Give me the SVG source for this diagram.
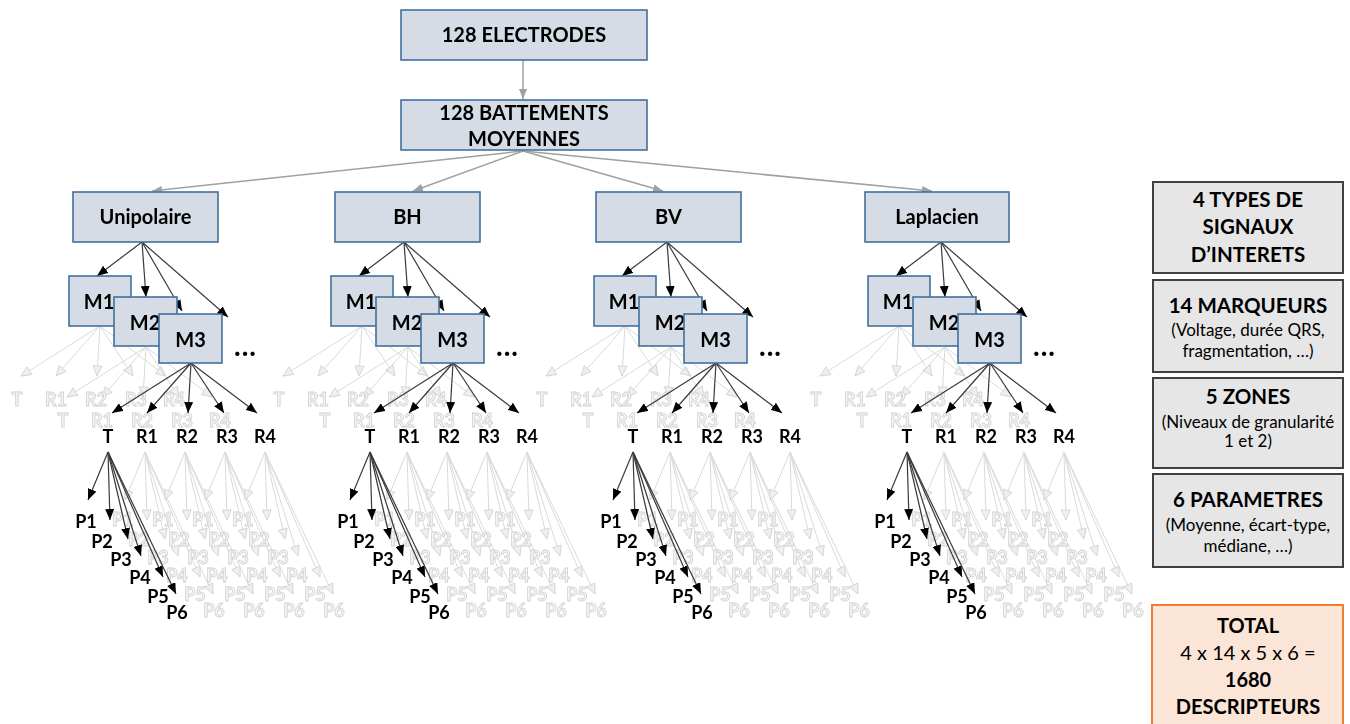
<svg xmlns="http://www.w3.org/2000/svg" xmlns:xlink="http://www.w3.org/1999/xlink" width="1350" height="724" viewBox="0 0 1350 724">
<style>
text{font-family:Lato,"Liberation Sans",sans-serif;}
.box rect{fill:#d6dce5;stroke:#41719c;stroke-width:1.6;}
.box text{font-size:20px;font-weight:700;fill:#000;text-anchor:middle;}
.info rect{fill:#e7e6e6;stroke:#404040;stroke-width:2;}
.info text{fill:#000;text-anchor:middle;}
.h{font-size:20.5px;font-weight:700;}
.s{font-size:17px;font-weight:400;}
.tot rect{fill:#fbe5d6;stroke:#ed7d31;stroke-width:2;}
.tot text{fill:#000;text-anchor:middle;font-size:20px;}
.gray{stroke:#a0a0a0;stroke-width:1.5;fill:none;marker-end:url(#ahG);}
.cd{stroke:#3a3a3a;stroke-width:1.2;fill:none;marker-end:url(#ahD);}
.cg{stroke:#d9d9d9;stroke-width:1;fill:none;marker-end:url(#ahL);}
.ld{fill:#000;font-size:18px;font-weight:700;text-anchor:middle;}
.lg{fill:#f7f7f7;stroke:#cfcfcf;stroke-width:0.8;font-size:18px;font-weight:700;text-anchor:middle;}
.dots{font-size:28px;font-weight:700;fill:#000;letter-spacing:1px;}
#ghosts{opacity:0.99;}
</style>
<defs>
<marker id="ahG" markerWidth="10" markerHeight="8" refX="10" refY="4" orient="auto" markerUnits="userSpaceOnUse"><path d="M0,0 L10,4 L0,8 z" fill="#a0a0a0"/></marker>
<marker id="ahD" markerWidth="11" markerHeight="9" refX="11" refY="4.5" orient="auto" markerUnits="userSpaceOnUse"><path d="M0,0 L11,4.5 L0,9 z" fill="#000"/></marker>
<marker id="ahL" markerWidth="12" markerHeight="11" refX="10.5" refY="5" orient="auto" markerUnits="userSpaceOnUse" overflow="visible"><path d="M0.5,0.5 L10.5,5 L0.5,9.5 z" fill="#efefef" stroke="#d0d0d0" stroke-width="0.8"/></marker>
<g id="cfanL">
<line x1="0" y1="0" x2="-45" y2="34"/>
<line x1="0" y1="0" x2="4" y2="55"/>
<line x1="0" y1="0" x2="40" y2="69"/>
<line x1="0" y1="0" x2="86" y2="75"/>
</g>
<g id="mfanL">
<line x1="0" y1="0" x2="-79" y2="50"/>
<line x1="0" y1="0" x2="-44" y2="50"/>
<line x1="0" y1="0" x2="-3" y2="50"/>
<line x1="0" y1="0" x2="33" y2="50"/>
<line x1="0" y1="0" x2="66" y2="50"/>
</g>
<g id="mfanT">
<text x="-83" y="80">T</text>
<text x="-44" y="80">R1</text>
<text x="-4" y="80">R2</text>
<text x="36" y="80">R3</text>
<text x="74" y="80">R4</text>
</g>
<g id="pfanL">
<line x1="0" y1="0" x2="-20" y2="48"/>
<line x1="0" y1="0" x2="2" y2="68"/>
<line x1="0" y1="0" x2="20" y2="87"/>
<line x1="0" y1="0" x2="33" y2="104"/>
<line x1="0" y1="0" x2="55" y2="125"/>
<line x1="0" y1="0" x2="68" y2="142"/>
</g>
<g id="pfanT">
<text x="-22" y="76">P1</text>
<text x="-6" y="96">P2</text>
<text x="13" y="114">P3</text>
<text x="32" y="132">P4</text>
<text x="50" y="151">P5</text>
<text x="69" y="167">P6</text>
</g>
</defs>

<g id="ghosts">
<g id="ghost-connectors">
<use xlink:href="#mfanL" class="cg" transform="translate(100,326)"/>
<use xlink:href="#mfanL" class="cg" transform="translate(146,347)"/>
<use xlink:href="#pfanL" class="cg" transform="translate(145,452)"/>
<use xlink:href="#pfanL" class="cg" transform="translate(185,452)"/>
<use xlink:href="#pfanL" class="cg" transform="translate(225,452)"/>
<use xlink:href="#pfanL" class="cg" transform="translate(265,452)"/>
<use xlink:href="#mfanL" class="cg" transform="translate(362,326)"/>
<use xlink:href="#mfanL" class="cg" transform="translate(408,347)"/>
<use xlink:href="#pfanL" class="cg" transform="translate(407,452)"/>
<use xlink:href="#pfanL" class="cg" transform="translate(447,452)"/>
<use xlink:href="#pfanL" class="cg" transform="translate(487,452)"/>
<use xlink:href="#pfanL" class="cg" transform="translate(527,452)"/>
<use xlink:href="#mfanL" class="cg" transform="translate(625,326)"/>
<use xlink:href="#mfanL" class="cg" transform="translate(671,347)"/>
<use xlink:href="#pfanL" class="cg" transform="translate(670,452)"/>
<use xlink:href="#pfanL" class="cg" transform="translate(710,452)"/>
<use xlink:href="#pfanL" class="cg" transform="translate(750,452)"/>
<use xlink:href="#pfanL" class="cg" transform="translate(790,452)"/>
<use xlink:href="#mfanL" class="cg" transform="translate(899,326)"/>
<use xlink:href="#mfanL" class="cg" transform="translate(945,347)"/>
<use xlink:href="#pfanL" class="cg" transform="translate(944,452)"/>
<use xlink:href="#pfanL" class="cg" transform="translate(984,452)"/>
<use xlink:href="#pfanL" class="cg" transform="translate(1024,452)"/>
<use xlink:href="#pfanL" class="cg" transform="translate(1064,452)"/>
</g>
<g id="ghost-labels">
<use xlink:href="#mfanT" class="lg" transform="translate(100,326)"/>
<use xlink:href="#mfanT" class="lg" transform="translate(146,347)"/>
<use xlink:href="#pfanT" class="lg" transform="translate(145,450)"/>
<use xlink:href="#pfanT" class="lg" transform="translate(185,450)"/>
<use xlink:href="#pfanT" class="lg" transform="translate(225,450)"/>
<use xlink:href="#pfanT" class="lg" transform="translate(265,450)"/>
<use xlink:href="#mfanT" class="lg" transform="translate(362,326)"/>
<use xlink:href="#mfanT" class="lg" transform="translate(408,347)"/>
<use xlink:href="#pfanT" class="lg" transform="translate(407,450)"/>
<use xlink:href="#pfanT" class="lg" transform="translate(447,450)"/>
<use xlink:href="#pfanT" class="lg" transform="translate(487,450)"/>
<use xlink:href="#pfanT" class="lg" transform="translate(527,450)"/>
<use xlink:href="#mfanT" class="lg" transform="translate(625,326)"/>
<use xlink:href="#mfanT" class="lg" transform="translate(671,347)"/>
<use xlink:href="#pfanT" class="lg" transform="translate(670,450)"/>
<use xlink:href="#pfanT" class="lg" transform="translate(710,450)"/>
<use xlink:href="#pfanT" class="lg" transform="translate(750,450)"/>
<use xlink:href="#pfanT" class="lg" transform="translate(790,450)"/>
<use xlink:href="#mfanT" class="lg" transform="translate(899,326)"/>
<use xlink:href="#mfanT" class="lg" transform="translate(945,347)"/>
<use xlink:href="#pfanT" class="lg" transform="translate(944,450)"/>
<use xlink:href="#pfanT" class="lg" transform="translate(984,450)"/>
<use xlink:href="#pfanT" class="lg" transform="translate(1024,450)"/>
<use xlink:href="#pfanT" class="lg" transform="translate(1064,450)"/>
</g>
</g>

<g id="connectors">
<line class="gray" x1="523" y1="60" x2="523" y2="99"/>
<line class="gray" x1="523" y1="151" x2="152" y2="191"/>
<line class="gray" x1="523" y1="151" x2="413" y2="191"/>
<line class="gray" x1="523" y1="151" x2="663" y2="191"/>
<line class="gray" x1="523" y1="151" x2="932" y2="191"/>
<use xlink:href="#cfanL" class="cd" transform="translate(142,242)"/>
<use xlink:href="#cfanL" class="cd" transform="translate(404,242)"/>
<use xlink:href="#cfanL" class="cd" transform="translate(667,242)"/>
<use xlink:href="#cfanL" class="cd" transform="translate(941,242)"/>
<use xlink:href="#mfanL" class="cd" transform="translate(191,363)"/>
<use xlink:href="#mfanL" class="cd" transform="translate(453,363)"/>
<use xlink:href="#mfanL" class="cd" transform="translate(716,363)"/>
<use xlink:href="#mfanL" class="cd" transform="translate(990,363)"/>
<use xlink:href="#pfanL" class="cd" transform="translate(108,452)"/>
<use xlink:href="#pfanL" class="cd" transform="translate(370,452)"/>
<use xlink:href="#pfanL" class="cd" transform="translate(633,452)"/>
<use xlink:href="#pfanL" class="cd" transform="translate(907,452)"/>
</g>

<g id="n-electrodes" class="box"><rect x="401" y="10" width="246" height="50"/><text x="524" y="42">128 ELECTRODES</text></g>
<g id="n-battements" class="box"><rect x="401" y="100" width="246" height="50"/><text x="524" y="120">128 BATTEMENTS</text><text x="524" y="146">MOYENNES</text></g>

<g id="n-unipolaire" class="box"><rect x="73" y="192" width="145" height="50"/><text x="145.5" y="224">Unipolaire</text></g>
<g id="n-bh" class="box"><rect x="335" y="192" width="145" height="50"/><text x="407.5" y="224">BH</text></g>
<g id="n-bv" class="box"><rect x="596" y="192" width="145" height="50"/><text x="668.5" y="224">BV</text></g>
<g id="n-laplacien" class="box"><rect x="865" y="192" width="144" height="50"/><text x="937" y="224">Laplacien</text></g>

<g id="n-u-m1" class="box"><rect x="69" y="276" width="62" height="50"/><text x="99" y="309">M1</text></g>
<g id="n-u-m2" class="box"><rect x="114" y="297" width="63" height="49"/><text x="145" y="330">M2</text></g>
<g id="n-u-m3" class="box"><rect x="159" y="314" width="63" height="49"/><text x="190.5" y="347">M3</text></g>
<g id="n-bh-m1" class="box"><rect x="331" y="276" width="62" height="50"/><text x="361" y="309">M1</text></g>
<g id="n-bh-m2" class="box"><rect x="376" y="297" width="63" height="49"/><text x="407" y="330">M2</text></g>
<g id="n-bh-m3" class="box"><rect x="421" y="314" width="63" height="49"/><text x="452.5" y="347">M3</text></g>
<g id="n-bv-m1" class="box"><rect x="594" y="276" width="62" height="50"/><text x="624" y="309">M1</text></g>
<g id="n-bv-m2" class="box"><rect x="639" y="297" width="63" height="49"/><text x="670" y="330">M2</text></g>
<g id="n-bv-m3" class="box"><rect x="684" y="314" width="63" height="49"/><text x="715.5" y="347">M3</text></g>
<g id="n-l-m1" class="box"><rect x="868" y="276" width="62" height="50"/><text x="898" y="309">M1</text></g>
<g id="n-l-m2" class="box"><rect x="913" y="297" width="63" height="49"/><text x="944" y="330">M2</text></g>
<g id="n-l-m3" class="box"><rect x="958" y="314" width="63" height="49"/><text x="989.5" y="347">M3</text></g>

<g id="dots">
<text class="dots" x="234" y="356">...</text>
<text class="dots" x="496" y="356">...</text>
<text class="dots" x="759" y="356">...</text>
<text class="dots" x="1033" y="356">...</text>
</g>

<g id="labels">
<use xlink:href="#mfanT" class="ld" transform="translate(191,363)"/>
<use xlink:href="#mfanT" class="ld" transform="translate(453,363)"/>
<use xlink:href="#mfanT" class="ld" transform="translate(716,363)"/>
<use xlink:href="#mfanT" class="ld" transform="translate(990,363)"/>
<use xlink:href="#pfanT" class="ld" transform="translate(108,452)"/>
<use xlink:href="#pfanT" class="ld" transform="translate(370,452)"/>
<use xlink:href="#pfanT" class="ld" transform="translate(633,452)"/>
<use xlink:href="#pfanT" class="ld" transform="translate(907,452)"/>
</g>

<g id="info-types" class="info"><rect x="1153" y="182" width="190" height="91"/>
<text class="h" x="1248" y="207">4 TYPES DE</text><text class="h" x="1248" y="234">SIGNAUX</text><text class="h" x="1248" y="262">D’INTERETS</text></g>
<g id="info-marqueurs" class="info"><rect x="1153" y="280" width="190" height="92"/>
<text class="h" x="1248" y="313">14 MARQUEURS</text><text class="s" x="1248" y="336">(Voltage, durée QRS,</text><text class="s" x="1248" y="357">fragmentation, …)</text></g>
<g id="info-zones" class="info"><rect x="1153" y="378" width="190" height="90"/>
<text class="h" x="1248" y="404">5 ZONES</text><text class="s" x="1248" y="428">(Niveaux de granularité</text><text class="s" x="1248" y="447">1 et 2)</text></g>
<g id="info-parametres" class="info"><rect x="1153" y="474" width="190" height="93"/>
<text class="h" x="1248" y="507">6 PARAMETRES</text><text class="s" x="1248" y="531">(Moyenne, écart-type,</text><text class="s" x="1248" y="552">médiane, …)</text></g>
<g id="total" class="tot"><rect x="1152" y="605" width="191" height="130"/>
<text x="1248" y="633" font-weight="700">TOTAL</text><text x="1248" y="660">4 x 14 x 5 x 6 =</text><text x="1248" y="687" font-weight="700">1680</text><text x="1248" y="714" font-weight="700">DESCRIPTEURS</text></g>
</svg>
